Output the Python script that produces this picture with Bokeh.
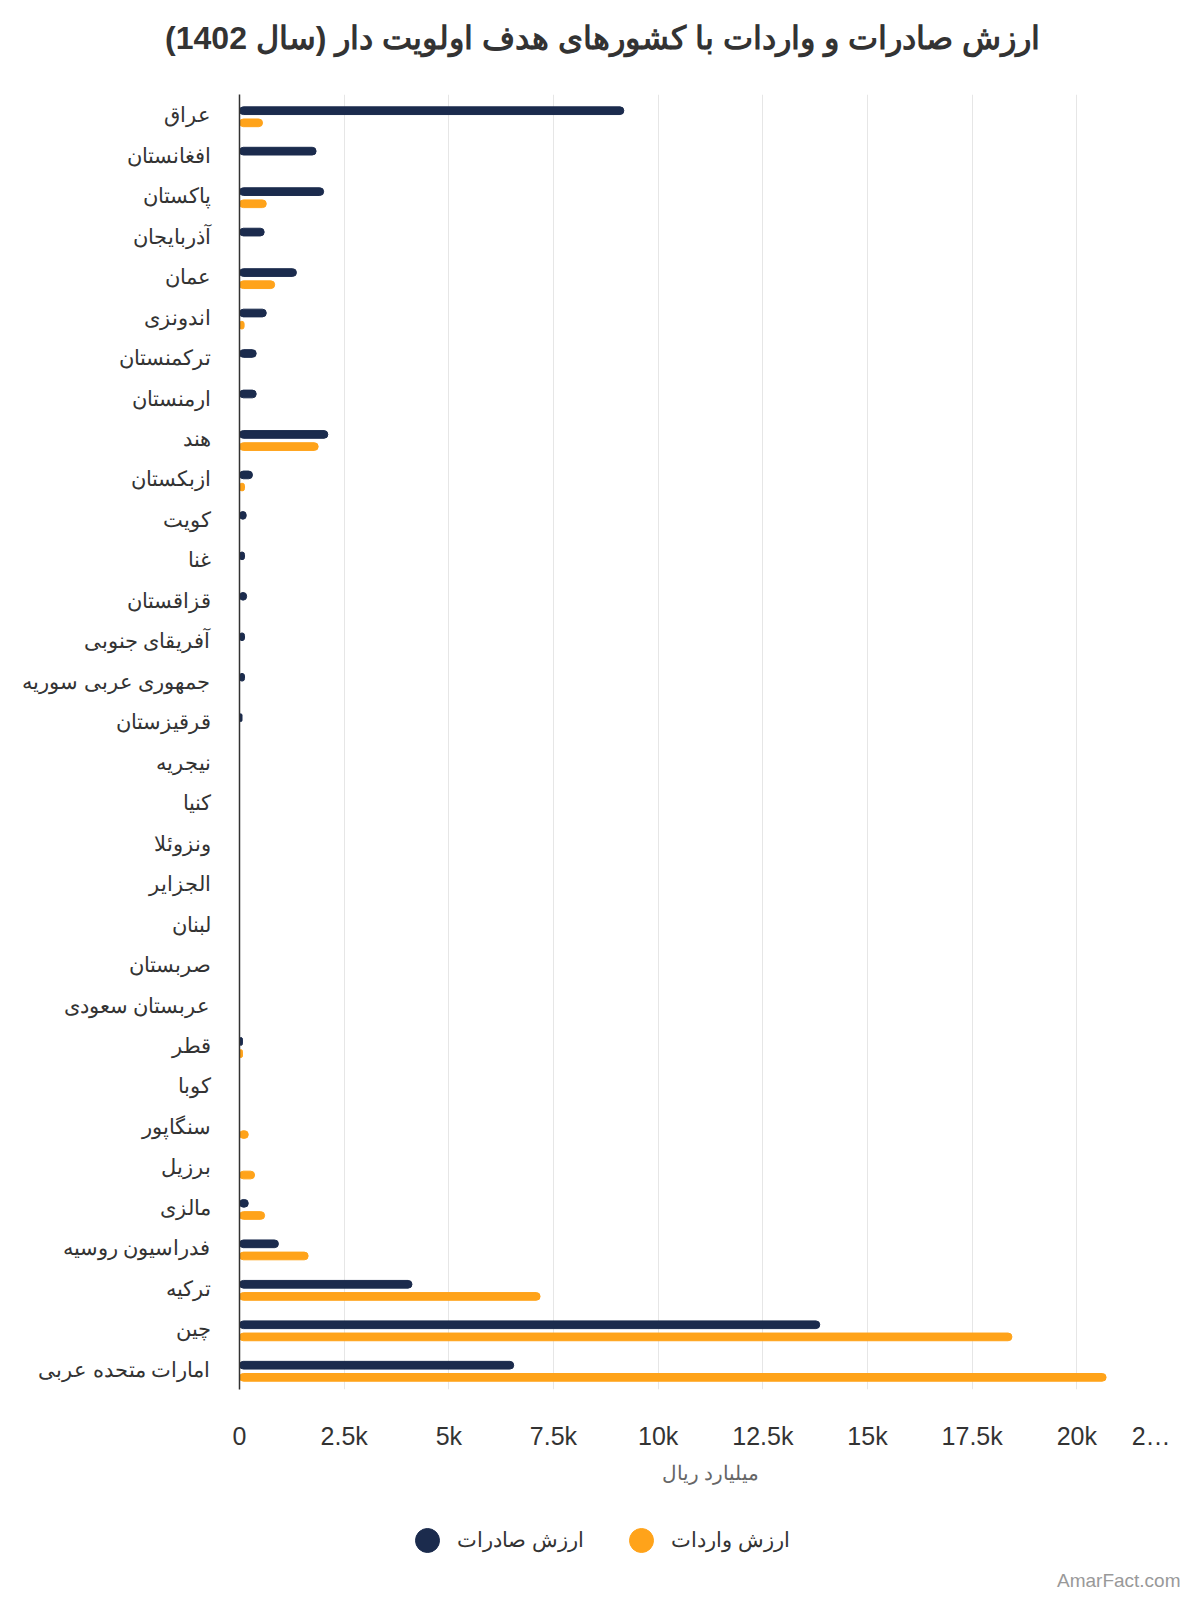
from bokeh.plotting import figure
from bokeh.models import (Range1d, FactorRange, FixedTicker, Legend, LegendItem,
                          Title, Label, ColumnDataSource)
from bokeh.transform import dodge
from bokeh.layouts import column
from bokeh.embed import file_html
from bokeh.resources import INLINE

countries = ["عراق", "افغانستان", "پاکستان", "آذربایجان", "عمان", "اندونزی",
             "ترکمنستان", "ارمنستان", "هند", "ازبکستان", "کویت", "غنا",
             "قزاقستان", "آفریقای جنوبی", "جمهوری عربی سوریه", "قرقیزستان",
             "نیجریه", "کنیا", "ونزوئلا", "الجزایر", "لبنان", "صربستان",
             "عربستان سعودی", "قطر", "کوبا", "سنگاپور", "برزیل", "مالزی",
             "فدراسیون روسیه", "ترکیه", "چین", "امارات متحده عربی"]

# میلیارد ریال
exports = [9180, 1830, 2010, 590, 1360, 640,
           400, 400, 2110, 310, 160, 120,
           170, 120, 120, 60,
           0, 0, 0, 0, 0, 0,
           0, 70, 0, 0, 0, 210,
           930, 4120, 13860, 6550]

imports = [550, 0, 640, 0, 840, 110,
           0, 0, 1880, 120, 0, 0,
           0, 0, 0, 0,
           0, 0, 0, 0, 0, 0,
           0, 70, 0, 210, 360, 600,
           1640, 7180, 18450, 20700]

x_ticks = [0, 2500, 5000, 7500, 10000, 12500, 15000, 17500, 20000, 22500]
x_tick_labels = ["0", "2.5k", "5k", "7.5k", "10k", "12.5k", "15k", "17.5k", "20k",
                 "2…" + "\u00a0" * 2]

title_text = "ارزش صادرات و واردات با کشورهای هدف اولویت دار (سال 1402)"
x_label = "میلیارد ریال"
export_name = "ارزش صادرات"
import_name = "ارزش واردات"
watermark = "AmarFact.com"

NAVY = "#1b2b4d"
ORANGE = "#ffa31a"
FONT = "Liberation Sans"
TXT = "#333333"

FRAME_W, FRAME_H = 942, 1295
B_LEFT, B_RIGHT = 239, 3

# ---------- title strip ----------
t = figure(frame_width=FRAME_W, frame_height=29, x_range=Range1d(0, 1), y_range=Range1d(0, 1),
           min_border_left=B_LEFT, min_border_right=B_RIGHT,
           min_border_top=65, min_border_bottom=0,
           x_axis_location=None, y_axis_location=None,
           output_backend="svg", toolbar_location=None,
           background_fill_color="white", border_fill_color="white")
t.outline_line_color = None
t.grid.visible = False
t.title = Title(text=title_text, align="right", offset=142, standoff=20,
                text_font=FONT, text_font_size="32px", text_font_style="bold",
                text_color=TXT)

# ---------- main chart ----------
src = ColumnDataSource(dict(country=countries, exp=exports, imp=imports))

p = figure(y_range=FactorRange(factors=list(reversed(countries)), range_padding=0),
           x_range=Range1d(0, 22500),
           frame_width=FRAME_W, frame_height=FRAME_H,
           min_border_left=B_LEFT, min_border_right=B_RIGHT,
           min_border_top=0, min_border_bottom=110,
           output_backend="svg", toolbar_location=None,
           background_fill_color="white", border_fill_color="white")
p.outline_line_color = None

p.hbar(y=dodge("country", 0.10, range=p.y_range), right="exp", left=0, height=0.19,
       color=NAVY, source=src, border_radius=4)
p.hbar(y=dodge("country", -0.20, range=p.y_range), right="imp", left=0, height=0.19,
       color=ORANGE, source=src, border_radius=4)

p.ygrid.grid_line_color = None
p.xgrid.grid_line_color = "#e6e6e6"
p.xgrid.grid_line_width = 1
p.xgrid.ticker = FixedTicker(ticks=x_ticks)

p.xaxis.ticker = FixedTicker(ticks=x_ticks)
p.xaxis.major_label_overrides = {t_: l for t_, l in zip(x_ticks, x_tick_labels)}
p.xaxis.axis_line_color = None
p.xaxis.major_tick_line_color = None
p.xaxis.major_tick_out = 0
p.xaxis.major_tick_in = 0
p.xaxis.minor_tick_line_color = None
p.xaxis.major_label_standoff = 32
p.xaxis.major_label_text_font = FONT
p.xaxis.major_label_text_font_size = "25px"
p.xaxis.major_label_text_color = TXT
p.xaxis.axis_label = x_label
p.xaxis.axis_label_text_font = FONT
p.xaxis.axis_label_text_font_size = "20px"
p.xaxis.axis_label_text_font_style = "normal"
p.xaxis.axis_label_text_color = "#666666"
p.xaxis.axis_label_standoff = 9

p.yaxis.axis_line_color = TXT
p.yaxis.axis_line_width = 1.5
p.yaxis.major_tick_line_color = None
p.yaxis.major_tick_out = 0
p.yaxis.major_tick_in = 0
p.yaxis.minor_tick_line_color = None
p.yaxis.major_label_standoff = 29
p.yaxis.major_label_text_font = FONT
p.yaxis.major_label_text_font_size = "21px"
p.yaxis.major_label_text_color = TXT

# ---------- bottom strip: legend and watermark ----------
STRIP_H = 93
q = figure(frame_width=FRAME_W, frame_height=STRIP_H,
           x_range=Range1d(0, FRAME_W), y_range=Range1d(0, STRIP_H),
           min_border_left=B_LEFT, min_border_right=B_RIGHT,
           min_border_top=0, min_border_bottom=0,
           x_axis_location=None, y_axis_location=None,
           output_backend="svg", toolbar_location=None,
           background_fill_color="white", border_fill_color="white")
q.outline_line_color = None
q.grid.visible = False

# legend proxies (single point placed outside the visible range)
r_exp = q.scatter(x=[-100], y=[-100], marker="circle", size=10, color=NAVY)
r_imp = q.scatter(x=[-100], y=[-100], marker="circle", size=10, color=ORANGE)

legend = Legend(items=[LegendItem(label=export_name, renderers=[r_exp]),
                       LegendItem(label=import_name, renderers=[r_imp])],
                orientation="horizontal", location=(158, 22),
                glyph_width=60, glyph_height=60, label_standoff=-5, spacing=27,
                padding=0, margin=0, border_line_color=None,
                background_fill_alpha=0,
                label_text_font=FONT, label_text_font_size="21px",
                label_text_color=TXT)
q.add_layout(legend, "center")

q.add_layout(Label(x=FRAME_W - 1, y=12, text=watermark, text_align="right",
                   text_baseline="middle", text_font=FONT, text_font_size="19px",
                   text_color="#999999"))

open("out.html", "w").write(file_html(column(t, p, q, spacing=0), INLINE))
